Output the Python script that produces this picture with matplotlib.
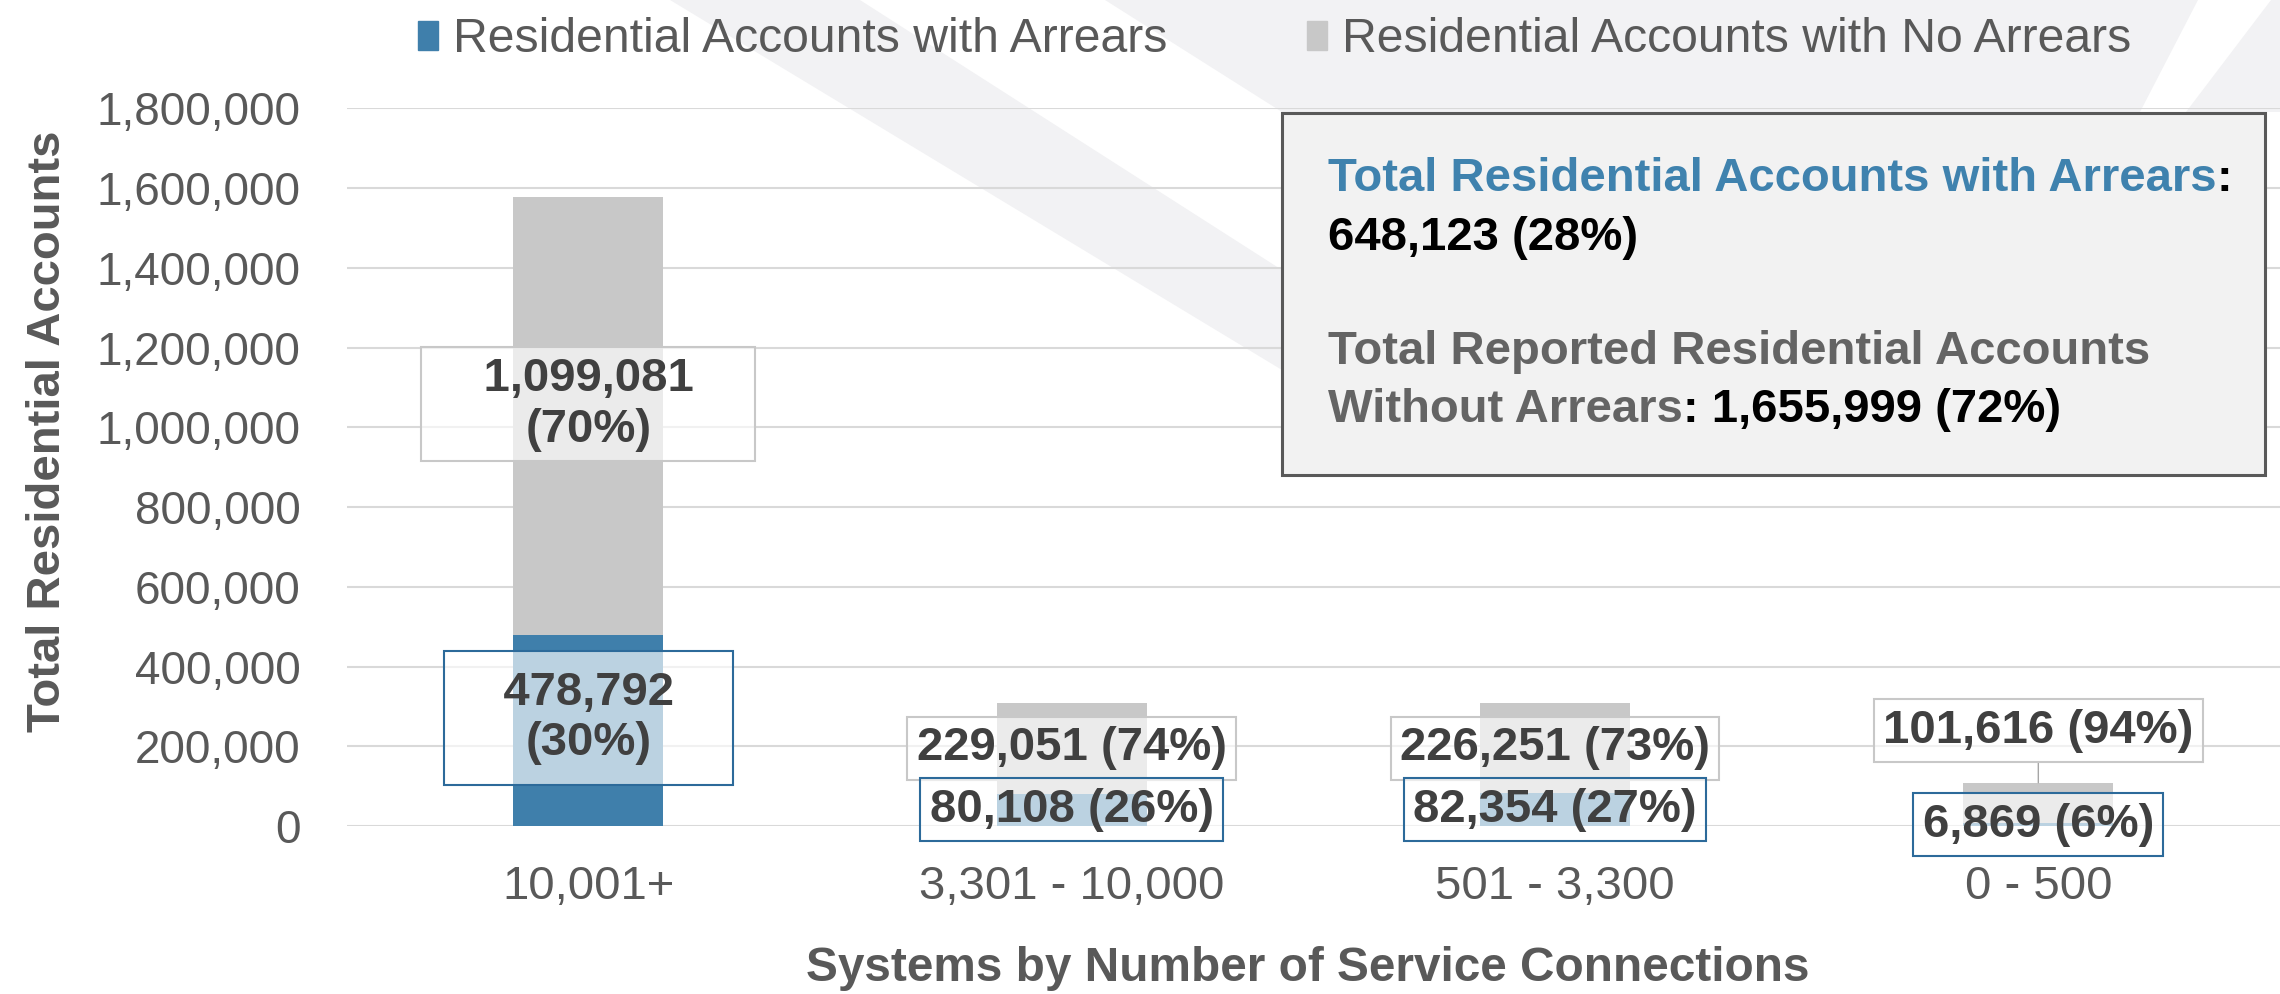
import numpy as np
import matplotlib
matplotlib.use("Agg")
import matplotlib.pyplot as plt
from matplotlib.patches import Patch, Polygon, Rectangle
from matplotlib.text import Annotation
from matplotlib.ticker import MultipleLocator, FuncFormatter

plt.rcParams['font.family'] = ['Liberation Sans', 'DejaVu Sans']

# data
categories = ["10,001+", "3,301 - 10,000", "501 - 3,300", "0 - 500"]
with_arrears = [478792, 80108, 82354, 6869]
no_arrears = [1099081, 229051, 226251, 101616]
series_names = ["Residential Accounts with Arrears", "Residential Accounts with No Arrears"]

# where the data labels sit (value units)
gray_label_y = [1058000, 195000, 195000, 239000]
blue_label_y = [271000, 41000, 41000, 3000]

BLUE = "#3F7FAB"
GRAY = "#C8C8C8"
TXT = "#595959"
LBL = "#404040"
BG = "#F2F2F4"
W, H = 2280, 994


def px(points):
    return [(x / W, 1 - y / H) for x, y in points]


fig = plt.figure(figsize=(W / 100, H / 100), dpi=100)

# faint background swoosh
for shape in [[(670, 0), (860, 0), (1282, 270), (1282, 370)],
              [(1105, 0), (2198, 0), (2140, 112), (1282, 112)],
              [(2271, 0), (2280, 0), (2280, 112), (2186, 112)]]:
    fig.add_artist(Polygon(px(shape), closed=True, fc=BG, ec="none", zorder=-2))

ax = fig.add_axes([0.152, 0.169, 0.848, 0.722])
ax.set_facecolor("none")

x = np.arange(len(categories))
arr = np.array(with_arrears)
no = np.array(no_arrears)
tot = arr + no
ax.bar(x, arr, width=0.31, color=BLUE, zorder=2)
ax.bar(x, no, bottom=arr, width=0.31, color=GRAY, zorder=2)

ax.set_xlim(-0.5, len(categories) - 0.5)
ax.set_ylim(0, 1800000)
ax.yaxis.set_major_locator(MultipleLocator(200000))
ax.yaxis.set_major_formatter(FuncFormatter(lambda v, _: f"{v:,.0f}"))
ax.set_xticks(x)
ax.set_xticklabels(categories)
ax.grid(axis="y", color="#D9D9D9", lw=1.5)
ax.set_axisbelow(True)
for s in ax.spines.values():
    s.set_visible(False)
ax.tick_params(axis="y", length=0, labelsize=33, colors=TXT, pad=33)
ax.tick_params(axis="x", length=0, labelsize=34, colors=TXT, pad=28)

ax.set_ylabel("Total Residential Accounts", fontsize=34, fontweight="bold", color=TXT)
ax.yaxis.set_label_coords(-0.143, 0.55)
ax.set_xlabel("Systems by Number of Service Connections", fontsize=34.4,
              fontweight="bold", color=TXT)
ax.xaxis.set_label_coords(0.497, -0.198)
ax.xaxis.label.set_va("center")

# data labels
for i in range(len(categories)):
    pa = round(arr[i] / tot[i] * 100)
    pn = round(no[i] / tot[i] * 100)
    if i == 0:
        gtxt = f"    {no[i]:,}    \n({pn}%)"
        btxt = f"   {arr[i]:,}   \n({pa}%)"
        bpad = 0.42
    else:
        gtxt = f"{no[i]:,} ({pn}%)"
        btxt = f"{arr[i]:,} ({pa}%)"
        bpad = 0.2
    gbox = dict(boxstyle="square,pad=0.2", fc=(1, 1, 1, 0.65), ec="#C8C8C8", lw=1.5)
    bbox = dict(boxstyle=f"square,pad={bpad}", fc=(1, 1, 1, 0.65), ec="#2C6A9A", lw=1.5)
    if i == len(categories) - 1:
        ax.annotate(gtxt, xy=(x[i], tot[i]), xytext=(x[i], gray_label_y[i]),
                    ha="center", va="center", fontsize=34, fontweight="bold",
                    color=LBL, bbox=gbox, zorder=4,
                    arrowprops=dict(arrowstyle="-", color="#A6A6A6", lw=1,
                                    shrinkA=0, shrinkB=0))
    else:
        ax.text(x[i], gray_label_y[i], gtxt, ha="center", va="center",
                fontsize=34, fontweight="bold", color=LBL, bbox=gbox, zorder=4)
    ax.text(x[i], blue_label_y[i], btxt, ha="center", va="center",
            fontsize=34, fontweight="bold", color=LBL, bbox=bbox, zorder=4,
            clip_on=False)

# legend
handles = [Patch(color=BLUE), Patch(color=GRAY)]
fig.legend(handles, series_names, loc="center left", bbox_to_anchor=(418 / W, 0.960),
           ncol=2, frameon=False, fontsize=34.7, handlelength=0.42, handleheight=0.55,
           handletextpad=0.3, columnspacing=2.9, borderpad=0, borderaxespad=0,
           labelcolor=TXT)

# summary box
fig.add_artist(Rectangle((1282 / W, 1 - 475 / H), (2265 - 1282) / W, (475 - 113) / H,
                         transform=fig.transFigure, fc="#F2F2F2", ec="#595959",
                         lw=2.2, zorder=5))
total_arr = arr.sum()
total_no = no.sum()
p_arr = round(total_arr / (total_arr + total_no) * 100)
p_no = round(total_no / (total_arr + total_no) * 100)
tx = 1328 / W
kw = dict(fontsize=34, fontweight="bold", zorder=6)
t1 = fig.text(tx, 1 - 179 / H, "Total Residential Accounts with Arrears",
              color="#3F82AE", va="center", **kw)
fig.add_artist(Annotation(":", xy=(1, 0), xycoords=t1, va="bottom", ha="left",
                          color="black", **kw))
fig.text(tx, 1 - 238 / H, f"{total_arr:,} ({p_arr}%)", color="black", va="center", **kw)
fig.text(tx, 1 - 352 / H, "Total Reported Residential Accounts", color="#646464",
         va="center", **kw)
t4 = fig.text(tx, 1 - 410 / H, "Without Arrears", color="#646464", va="center", **kw)
fig.add_artist(Annotation(f": {total_no:,} ({p_no}%)", xy=(1, 0), xycoords=t4,
                          va="bottom", ha="left", color="black", **kw))

fig.savefig("out.png", dpi=100)
